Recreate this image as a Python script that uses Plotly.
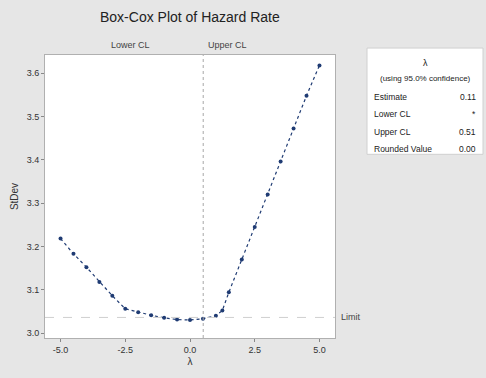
import plotly.graph_objects as go

# Data
lambdas = [-5.0, -4.5, -4.0, -3.5, -3.0, -2.5, -2.0, -1.5, -1.0, -0.5, 0.0, 0.5, 1.0, 1.25, 1.5, 2.0, 2.5, 3.0, 3.5, 4.0, 4.5, 5.0]
stdevs = [3.218, 3.183, 3.152, 3.118, 3.086, 3.056, 3.048, 3.041, 3.035, 3.031, 3.030, 3.033, 3.040, 3.052, 3.094, 3.170, 3.245, 3.320, 3.396, 3.472, 3.548, 3.618]
limit_value = 3.036
upper_cl = 0.51
x_ticks = [-5.0, -2.5, 0.0, 2.5, 5.0]
x_tick_labels = ["-5.0", "-2.5", "0.0", "2.5", "5.0"]
y_ticks = [3.0, 3.1, 3.2, 3.3, 3.4, 3.5, 3.6]
y_tick_labels = ["3.0", "3.1", "3.2", "3.3", "3.4", "3.5", "3.6"]
legend_rows = [("Estimate", "0.11"), ("Lower CL", "*"), ("Upper CL", "0.51"), ("Rounded Value", "0.00")]

font = "Liberation Sans, Arial, sans-serif"
fig = go.Figure()
fig.add_trace(go.Scatter(
    x=lambdas, y=stdevs, mode="lines+markers",
    line=dict(color="#1f3b73", width=1.2, dash="dot"),
    marker=dict(color="#1f3b73", size=4),
    hoverinfo="skip", showlegend=False))

fig.add_shape(type="line", xref="x", yref="paper", x0=upper_cl, x1=upper_cl, y0=0, y1=1,
              line=dict(color="#a8a8a8", width=1, dash="dot"))
fig.add_shape(type="line", xref="paper", yref="y", x0=0, x1=1, y0=limit_value, y1=limit_value,
              line=dict(color="#cfcfcf", width=1, dash="dash"))

ann = []
ann.append(dict(text="Box-Cox Plot of Hazard Rate", xref="paper", yref="paper", x=0.5, y=1.0 + 38/285,
                showarrow=False, font=dict(size=14, color="#222", family=font), xanchor="center", yanchor="middle"))
ann.append(dict(text="Lower CL", xref="paper", yref="paper", x=(152-45)/290, y=1.0 + 10/285,
                showarrow=False, font=dict(size=9, color="#444", family=font), xanchor="right", yanchor="middle"))
ann.append(dict(text="Upper CL", xref="x", yref="paper", x=upper_cl, y=1.0 + 10/285, xshift=3,
                showarrow=False, font=dict(size=9, color="#444", family=font), xanchor="left", yanchor="middle"))
ann.append(dict(text="Limit", xref="paper", yref="y", x=1.0, y=limit_value, xshift=4,
                showarrow=False, font=dict(size=9, color="#444", family=font), xanchor="left", yanchor="middle"))

# Legend box
bx0, bx1 = (367-45)/290, (483-45)/290
by0, by1 = (340-155)/285, (340-48)/285
fig.add_shape(type="rect", xref="paper", yref="paper", x0=bx0, x1=bx1, y0=by0, y1=by1,
              fillcolor="white", line=dict(color="#d0d0d0", width=1))
cx = (425-45)/290
def py(p):
    return (340-p)/285
ann.append(dict(text="λ", xref="paper", yref="paper", x=cx, y=py(63), showarrow=False,
                font=dict(size=9, color="#222", family=font), xanchor="center", yanchor="middle"))
ann.append(dict(text="(using 95.0% confidence)", xref="paper", yref="paper", x=cx, y=py(79), showarrow=False,
                font=dict(size=8, color="#222", family=font), xanchor="center", yanchor="middle"))
for i, (lab, val) in enumerate(legend_rows):
    yy = py(97 + i*17.7)
    ann.append(dict(text=lab, xref="paper", yref="paper", x=(372-45)/290, y=yy, showarrow=False,
                    font=dict(size=8.5, color="#222", family=font), xanchor="left", yanchor="middle"))
    ann.append(dict(text=val, xref="paper", yref="paper", x=(478-45)/290, y=yy, showarrow=False,
                    font=dict(size=8.5, color="#222", family=font), xanchor="right", yanchor="middle"))

fig.update_layout(
    width=486, height=378,
    margin=dict(l=45, r=151, t=55, b=38),
    paper_bgcolor="#e6e6e6", plot_bgcolor="white",
    font=dict(family=font, size=9, color="#333"),
    annotations=ann,
    xaxis=dict(range=[-5.6, 5.6], tickvals=x_ticks, ticktext=x_tick_labels, showgrid=False, zeroline=False,
               ticks="outside", ticklen=3, tickcolor="#888", showline=True, linecolor="#b0b0b0", mirror=True,
               title=dict(text="λ", standoff=4, font=dict(size=10))),
    yaxis=dict(range=[2.9885, 3.642], tickvals=y_ticks, ticktext=y_tick_labels, showgrid=False, zeroline=False,
               ticks="outside", ticklen=3, tickcolor="#888", showline=True, linecolor="#b0b0b0", mirror=True,
               title=dict(text="StDev", standoff=6, font=dict(size=10))),
)
fig.write_html("out.html", config={"displayModeBar": False},
               post_script="document.body.style.margin='0';document.body.style.padding='0';")
